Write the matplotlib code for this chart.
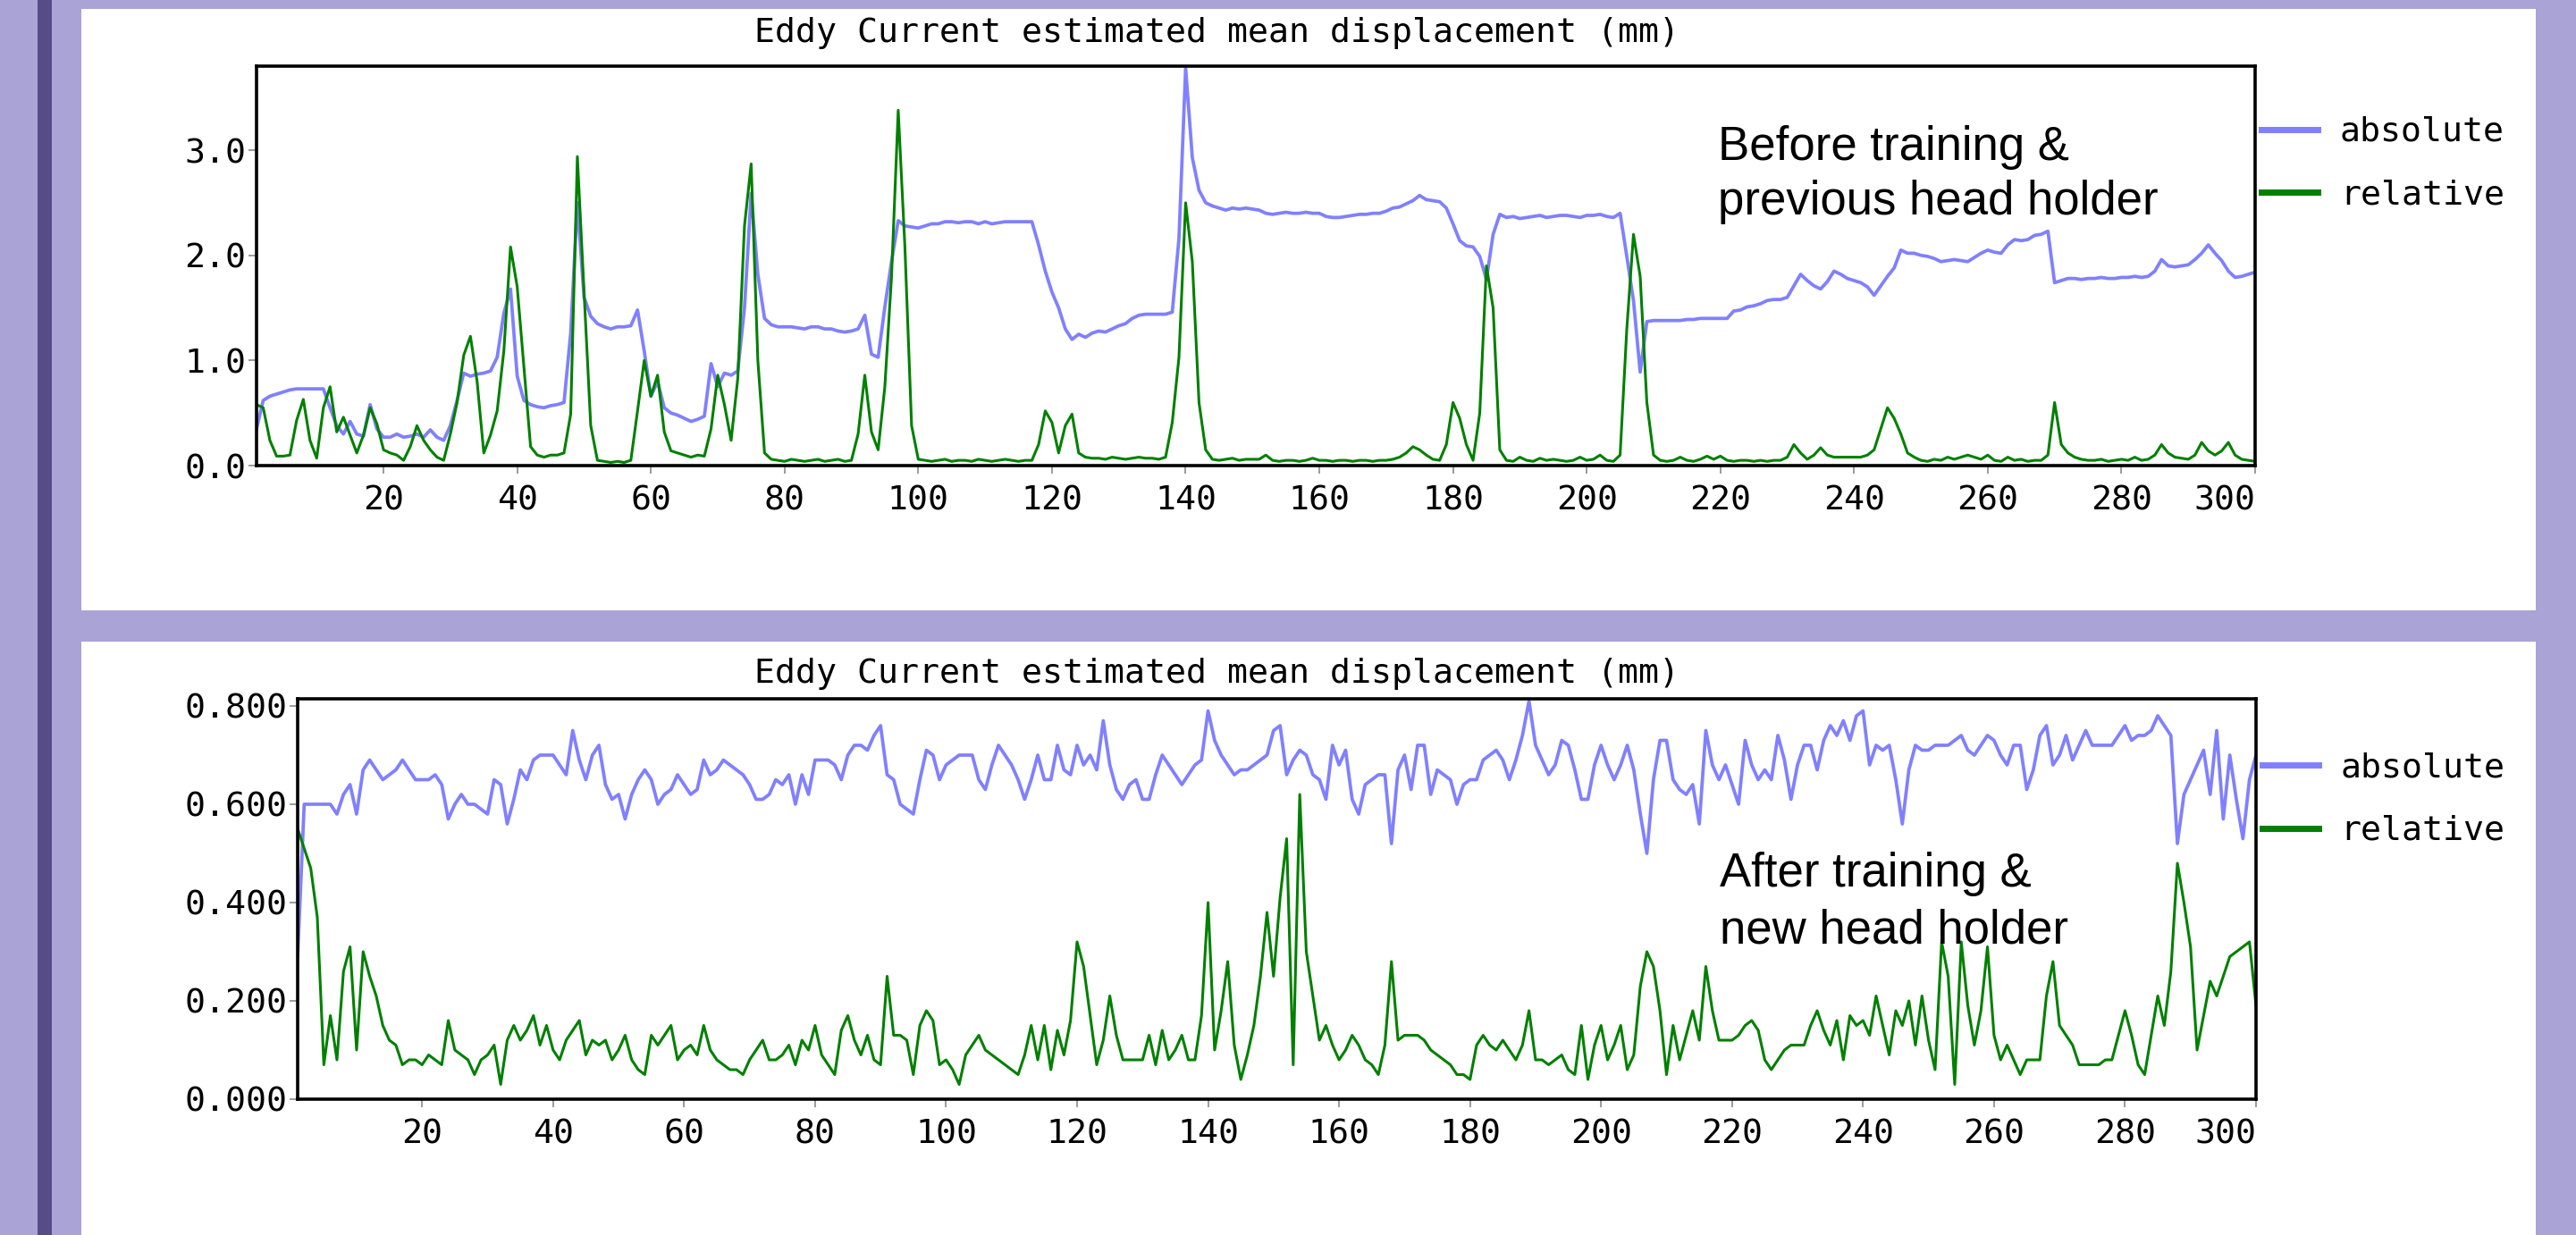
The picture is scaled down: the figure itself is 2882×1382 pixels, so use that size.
import matplotlib
matplotlib.use("Agg")
import matplotlib.pyplot as plt
from matplotlib.patches import Rectangle
from matplotlib.ticker import FixedLocator, FormatStrFormatter

W, H = 2882, 1382

title_text = "Eddy Current estimated mean displacement (mm)"
legend_labels = ["absolute", "relative"]
x_ticks = list(range(20, 301, 20))
top_yticks = [0.0, 1.0, 2.0, 3.0]
bot_yticks = [0.0, 0.2, 0.4, 0.6, 0.8]
top_note = ["Before training &", "previous head holder"]
bot_note = ["After training &", "new head holder"]

volumes = list(range(1, 301))

top_abs = [
    0.35,0.62,0.66,0.68,0.70,0.72,0.73,0.73,0.73,0.73,
    0.73,0.55,0.38,0.30,0.42,0.30,0.28,0.58,0.35,0.27,
    0.27,0.30,0.27,0.28,0.30,0.27,0.34,0.27,0.24,0.38,
    0.62,0.88,0.85,0.87,0.88,0.90,1.03,1.45,1.68,0.85,
    0.62,0.58,0.56,0.55,0.57,0.58,0.60,1.26,2.50,1.60,
    1.42,1.35,1.32,1.30,1.32,1.32,1.33,1.48,1.09,0.66,
    0.80,0.55,0.50,0.48,0.45,0.42,0.44,0.47,0.97,0.75,
    0.88,0.86,0.90,1.50,2.59,1.82,1.40,1.34,1.32,1.32,
    1.32,1.31,1.30,1.32,1.32,1.30,1.30,1.28,1.27,1.28,
    1.30,1.43,1.06,1.03,1.51,1.94,2.33,2.28,2.27,2.26,
    2.28,2.30,2.30,2.32,2.32,2.31,2.32,2.32,2.30,2.32,
    2.30,2.31,2.32,2.32,2.32,2.32,2.32,2.10,1.85,1.65,
    1.50,1.30,1.20,1.25,1.22,1.26,1.28,1.27,1.30,1.33,
    1.35,1.40,1.43,1.44,1.44,1.44,1.44,1.46,2.16,3.78,
    2.93,2.62,2.50,2.47,2.45,2.43,2.45,2.44,2.45,2.44,
    2.43,2.40,2.39,2.40,2.41,2.40,2.40,2.41,2.40,2.40,
    2.37,2.36,2.36,2.37,2.38,2.39,2.39,2.40,2.40,2.42,
    2.45,2.46,2.49,2.52,2.57,2.53,2.52,2.51,2.45,2.30,
    2.14,2.09,2.08,1.99,1.77,2.20,2.39,2.36,2.37,2.35,
    2.36,2.37,2.38,2.36,2.37,2.38,2.38,2.37,2.36,2.38,
    2.38,2.39,2.37,2.36,2.40,1.99,1.57,0.89,1.37,1.38,
    1.38,1.38,1.38,1.38,1.39,1.39,1.40,1.40,1.40,1.40,
    1.40,1.47,1.48,1.51,1.52,1.54,1.57,1.58,1.58,1.60,
    1.71,1.82,1.76,1.71,1.68,1.75,1.85,1.82,1.78,1.76,
    1.74,1.70,1.62,1.71,1.80,1.88,2.05,2.02,2.02,2.00,
    1.99,1.97,1.94,1.95,1.96,1.95,1.94,1.98,2.02,2.05,
    2.03,2.02,2.10,2.15,2.14,2.15,2.19,2.20,2.23,1.74,
    1.76,1.78,1.78,1.77,1.78,1.78,1.79,1.78,1.78,1.79,
    1.79,1.80,1.79,1.80,1.85,1.96,1.90,1.89,1.90,1.91,
    1.96,2.02,2.10,2.02,1.95,1.85,1.79,1.80,1.82,1.84,
]

top_rel = [
    0.58,0.55,0.24,0.09,0.09,0.10,0.43,0.63,0.24,0.07,
    0.55,0.75,0.32,0.46,0.29,0.12,0.29,0.55,0.40,0.15,
    0.12,0.10,0.05,0.18,0.38,0.24,0.15,0.08,0.05,0.30,
    0.60,1.05,1.23,0.80,0.12,0.29,0.52,1.09,2.08,1.70,
    0.94,0.18,0.10,0.08,0.10,0.10,0.12,0.49,2.94,1.65,
    0.38,0.05,0.04,0.03,0.04,0.03,0.05,0.52,1.00,0.66,
    0.86,0.32,0.14,0.12,0.10,0.08,0.10,0.09,0.35,0.86,
    0.58,0.24,0.83,2.28,2.87,1.00,0.12,0.06,0.05,0.04,
    0.06,0.05,0.04,0.05,0.06,0.04,0.05,0.06,0.04,0.05,
    0.30,0.86,0.32,0.15,0.75,1.80,3.38,2.08,0.38,0.06,
    0.05,0.04,0.05,0.06,0.04,0.05,0.05,0.04,0.06,0.05,
    0.04,0.05,0.06,0.05,0.04,0.05,0.05,0.20,0.52,0.41,
    0.12,0.38,0.49,0.12,0.08,0.07,0.07,0.06,0.08,0.07,
    0.06,0.07,0.08,0.07,0.07,0.06,0.08,0.41,1.03,2.50,
    1.94,0.60,0.15,0.06,0.05,0.06,0.07,0.05,0.06,0.06,
    0.06,0.10,0.05,0.04,0.05,0.05,0.04,0.05,0.07,0.05,
    0.05,0.04,0.05,0.05,0.04,0.05,0.05,0.04,0.05,0.05,
    0.06,0.08,0.12,0.18,0.15,0.10,0.06,0.05,0.20,0.60,
    0.45,0.20,0.05,0.50,1.90,1.50,0.15,0.05,0.04,0.08,
    0.05,0.04,0.07,0.05,0.06,0.05,0.04,0.05,0.08,0.05,
    0.06,0.10,0.05,0.04,0.10,1.30,2.20,1.80,0.60,0.10,
    0.05,0.04,0.05,0.08,0.05,0.04,0.06,0.09,0.06,0.09,
    0.05,0.04,0.05,0.05,0.04,0.05,0.04,0.05,0.05,0.08,
    0.20,0.12,0.06,0.10,0.17,0.10,0.08,0.08,0.08,0.08,
    0.08,0.10,0.15,0.35,0.55,0.45,0.30,0.12,0.08,0.05,
    0.04,0.06,0.05,0.08,0.06,0.08,0.10,0.08,0.06,0.10,
    0.05,0.04,0.08,0.05,0.06,0.04,0.05,0.05,0.10,0.60,
    0.20,0.12,0.08,0.06,0.05,0.05,0.06,0.04,0.05,0.06,
    0.05,0.08,0.05,0.06,0.10,0.20,0.12,0.08,0.07,0.06,
    0.10,0.22,0.14,0.10,0.14,0.22,0.10,0.06,0.05,0.04,
]

bot_abs = [
    0.29,0.60,0.60,0.60,0.60,0.60,0.58,0.62,0.64,0.58,
    0.67,0.69,0.67,0.65,0.66,0.67,0.69,0.67,0.65,0.65,
    0.65,0.66,0.64,0.57,0.60,0.62,0.60,0.60,0.59,0.58,
    0.65,0.64,0.56,0.61,0.67,0.65,0.69,0.70,0.70,0.70,
    0.68,0.66,0.75,0.69,0.65,0.70,0.72,0.64,0.61,0.62,
    0.57,0.62,0.65,0.67,0.65,0.60,0.62,0.63,0.66,0.64,
    0.62,0.63,0.69,0.66,0.67,0.69,0.68,0.67,0.66,0.64,
    0.61,0.61,0.62,0.65,0.64,0.66,0.60,0.66,0.62,0.69,
    0.69,0.69,0.68,0.65,0.70,0.72,0.72,0.71,0.74,0.76,
    0.66,0.65,0.60,0.59,0.58,0.65,0.71,0.70,0.65,0.68,
    0.69,0.70,0.70,0.70,0.65,0.63,0.68,0.72,0.70,0.68,
    0.65,0.61,0.65,0.70,0.65,0.65,0.72,0.67,0.66,0.72,
    0.68,0.70,0.67,0.77,0.68,0.63,0.61,0.64,0.65,0.61,
    0.61,0.66,0.70,0.68,0.66,0.64,0.66,0.68,0.69,0.79,
    0.73,0.70,0.68,0.66,0.67,0.67,0.68,0.69,0.70,0.75,
    0.76,0.66,0.69,0.71,0.70,0.66,0.65,0.61,0.72,0.68,
    0.71,0.61,0.58,0.64,0.65,0.66,0.66,0.52,0.67,0.70,
    0.63,0.72,0.72,0.62,0.67,0.66,0.65,0.60,0.64,0.65,
    0.65,0.69,0.70,0.71,0.69,0.65,0.69,0.74,0.81,0.72,
    0.69,0.66,0.68,0.73,0.72,0.67,0.61,0.61,0.68,0.72,
    0.68,0.65,0.68,0.72,0.67,0.58,0.50,0.65,0.73,0.73,
    0.65,0.63,0.62,0.64,0.56,0.75,0.68,0.65,0.68,0.64,
    0.60,0.73,0.68,0.65,0.67,0.65,0.74,0.69,0.61,0.68,
    0.72,0.72,0.67,0.73,0.76,0.74,0.77,0.73,0.78,0.79,
    0.68,0.72,0.71,0.72,0.65,0.56,0.67,0.72,0.71,0.71,
    0.72,0.72,0.72,0.73,0.74,0.71,0.70,0.72,0.74,0.73,
    0.70,0.68,0.72,0.72,0.63,0.67,0.74,0.76,0.68,0.70,
    0.74,0.69,0.72,0.75,0.72,0.72,0.72,0.72,0.74,0.76,
    0.73,0.74,0.74,0.75,0.78,0.76,0.74,0.52,0.62,0.65,
    0.68,0.71,0.62,0.75,0.57,0.70,0.61,0.53,0.65,0.70,
]

bot_rel = [
    0.55,0.51,0.47,0.37,0.07,0.17,0.08,0.26,0.31,0.10,
    0.30,0.25,0.21,0.15,0.12,0.11,0.07,0.08,0.08,0.07,
    0.09,0.08,0.07,0.16,0.10,0.09,0.08,0.05,0.08,0.09,
    0.11,0.03,0.12,0.15,0.12,0.14,0.17,0.11,0.15,0.10,
    0.08,0.12,0.14,0.16,0.09,0.12,0.11,0.12,0.08,0.10,
    0.13,0.08,0.06,0.05,0.13,0.11,0.13,0.15,0.08,0.10,
    0.11,0.09,0.15,0.10,0.08,0.07,0.06,0.06,0.05,0.08,
    0.10,0.12,0.08,0.08,0.09,0.11,0.07,0.12,0.10,0.15,
    0.09,0.07,0.05,0.14,0.17,0.12,0.09,0.13,0.08,0.07,
    0.25,0.13,0.13,0.12,0.05,0.15,0.18,0.16,0.07,0.08,
    0.06,0.03,0.09,0.11,0.13,0.10,0.09,0.08,0.07,0.06,
    0.05,0.09,0.15,0.08,0.15,0.06,0.14,0.09,0.16,0.32,
    0.27,0.17,0.07,0.12,0.21,0.13,0.08,0.08,0.08,0.08,
    0.13,0.07,0.14,0.08,0.10,0.13,0.08,0.08,0.17,0.40,
    0.10,0.18,0.28,0.11,0.04,0.09,0.15,0.25,0.38,0.25,
    0.41,0.53,0.07,0.62,0.30,0.21,0.12,0.15,0.11,0.08,
    0.10,0.13,0.11,0.08,0.07,0.05,0.11,0.28,0.12,0.13,
    0.13,0.13,0.12,0.10,0.09,0.08,0.07,0.05,0.05,0.04,
    0.11,0.13,0.11,0.10,0.12,0.10,0.08,0.11,0.18,0.08,
    0.08,0.07,0.08,0.09,0.06,0.05,0.15,0.04,0.11,0.15,
    0.08,0.11,0.15,0.06,0.09,0.23,0.30,0.27,0.18,0.05,
    0.15,0.08,0.13,0.18,0.12,0.27,0.18,0.12,0.12,0.12,
    0.13,0.15,0.16,0.14,0.08,0.06,0.08,0.10,0.11,0.11,
    0.11,0.15,0.18,0.14,0.11,0.16,0.08,0.17,0.15,0.16,
    0.13,0.21,0.15,0.09,0.18,0.15,0.20,0.11,0.21,0.12,
    0.06,0.32,0.25,0.03,0.32,0.19,0.11,0.18,0.31,0.13,
    0.08,0.11,0.08,0.05,0.08,0.08,0.08,0.21,0.28,0.15,
    0.13,0.11,0.07,0.07,0.07,0.07,0.08,0.08,0.13,0.18,
    0.13,0.07,0.05,0.13,0.21,0.15,0.26,0.48,0.40,0.31,
    0.10,0.17,0.24,0.21,0.25,0.29,0.30,0.31,0.32,0.19,
]

BG = "#aaa3d6"
STRIPE = "#564c86"
ABS_C = "#8080ff"
REL_C = "#008000"
MONO = "DejaVu Sans Mono"
SANS = ["Liberation Sans", "DejaVu Sans"]
FS = 27.5

fig = plt.figure(figsize=(W / 100, H / 100), dpi=100, facecolor=BG)


def rect(x0, y0, x1, y1, color):
    r = Rectangle((x0 / W, 1 - y1 / H), (x1 - x0) / W, (y1 - y0) / H,
                  transform=fig.transFigure, facecolor=color, edgecolor="none",
                  zorder=0)
    fig.add_artist(r)


rect(42, 0, 58, H, STRIPE)
rect(91, 10, 2837, 683, "white")
rect(91, 718, 2837, H, "white")


def make_axes(left, top, right, bottom):
    return fig.add_axes([left / W, 1 - bottom / H, (right - left) / W, (bottom - top) / H])


def style(ax, ylim, yticks, yfmt, xmin=1, xmax=300):
    ax.set_xlim(xmin, xmax)
    ax.set_ylim(*ylim)
    ax.set_facecolor("white")
    for s in ax.spines.values():
        s.set_linewidth(2.6)
        s.set_color("black")
        s.set_zorder(5)
    ax.xaxis.set_major_locator(FixedLocator(x_ticks))
    ax.yaxis.set_major_locator(FixedLocator(yticks))
    ax.yaxis.set_major_formatter(FormatStrFormatter(yfmt))
    ax.tick_params(axis="both", direction="out", length=6.5, width=1.2,
                   color="#8a8a8a", labelsize=FS, labelcolor="black")
    ax.tick_params(axis="y", pad=2)
    ax.tick_params(axis="x", pad=9)
    for lab in ax.get_xticklabels() + ax.get_yticklabels():
        lab.set_fontfamily(MONO)
    labs = ax.get_xticklabels()
    labs[-1].set_horizontalalignment("right")


def draw(ax, a, r, leg_top):
    la, = ax.plot(volumes, a, color=ABS_C, lw=2.7, label=legend_labels[0])
    lr, = ax.plot(volumes, r, color=REL_C, lw=2.2, label=legend_labels[1])
    leg = ax.legend(handles=[la, lr], loc="upper left",
                    bbox_to_anchor=(1.0031, leg_top), frameon=False,
                    borderpad=0, borderaxespad=0, handlelength=1.65,
                    handletextpad=0.65, labelspacing=0.91,
                    prop={"family": MONO, "size": FS})
    for ln in leg.get_lines():
        ln.set_linewidth(5)


ax1 = make_axes(287, 74, 2523, 521)
style(ax1, (0, 3.80), top_yticks, "%.1f")
draw(ax1, top_abs, top_rel, 0.875)

ax2 = make_axes(333, 782, 2524, 1230)
style(ax2, (0, 0.8145), bot_yticks, "%.3f")
draw(ax2, bot_abs, bot_rel, 0.868)

fig.text(1361 / W, 1 - 37 / H, title_text, ha="center", va="center",
         family=MONO, size=FS)
fig.text(1361 / W, 1 - 754 / H, title_text, ha="center", va="center",
         family=MONO, size=FS)

for (txt, x, y) in [(top_note[0], 1922, 179), (top_note[1], 1922, 240),
                    (bot_note[0], 1924, 992), (bot_note[1], 1924, 1055)]:
    fig.text(x / W, 1 - y / H, txt, ha="left", va="baseline",
             family=SANS, size=38, color="black")

fig.savefig("out.png", dpi=100, facecolor=BG)
